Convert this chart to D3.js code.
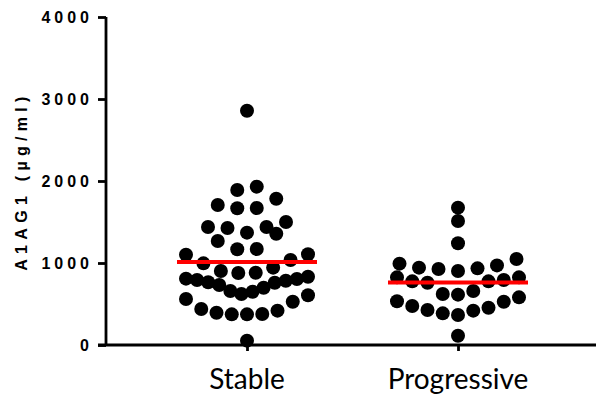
<!DOCTYPE html>
<html>
<head>
<meta charset="utf-8">
<script src="https://cdn.jsdelivr.net/npm/d3@7"></script>
<style>
  html, body { margin: 0; padding: 0; background: #fff; }
  svg { display: block; }
</style>
</head>
<body>
<svg id="chart" width="596" height="402"></svg>
<script>
// ---- data ----
const categories = ["Stable", "Progressive"];
const stableValues = [2857, 1931, 1890, 1784, 1671, 1707, 1667, 1500, 1439, 1370,
  1427, 1439, 1357, 1268, 1167, 1171, 1106, 1037, 1101, 996,
  943, 878, 882, 902, 809, 793, 765, 732, 659, 622,
  650, 699, 760, 784, 805, 833, 561, 606, 528, 439,
  394, 374, 374, 378, 419, 53];
const progressiveValues = [1675, 1512, 1240, 992, 943, 927, 902, 935, 971, 1049,
  825, 793, 760, 776, 776, 825, 659, 614, 622, 533,
  476, 427, 386, 366, 419, 455, 528, 581, 113];
const yTicks = [0, 1000, 2000, 3000, 4000];
const yTitle = "A1AG1 (µg/ml)";

// ---- layout ----
const W = 596, H = 402;
const axisX = 106, axisY = 345, topY = 17;
const svg = d3.select("#chart");

const y = d3.scaleLinear().domain([0, 4000]).range([axisY, topY]);
const x = d3.scalePoint().domain(categories).range([141.5, 563.5]).padding(0.5);

// beeswarm (Prism-like rows): values binned into rows, placed center-outwards
function swarm(values, binStart, binW, maxWidth, maxStep) {
  const items = values.map(v => ({ v, bin: Math.floor((v - binStart) / binW) }));
  const groups = d3.group(items, d => d.bin);
  const out = [];
  for (const [, arr] of groups) {
    arr.sort((a, b) => a.v - b.v);
    const n = arr.length;
    const step = n > 1 ? Math.min(maxStep, maxWidth / (n - 1)) : 0;
    arr.forEach((d, j) => {
      let off;
      if (n % 2) {
        const m = Math.ceil(j / 2);
        off = j === 0 ? 0 : (j % 2 ? -m : m);
      } else {
        const m = Math.floor(j / 2) + 0.5;
        off = j % 2 ? m : -m;
      }
      out.push({ v: d.v, dx: off * step });
    });
  }
  return out;
}

const series = [
  { cat: "Stable", values: stableValues },
  { cat: "Progressive", values: progressiveValues }
];

// axes
const yAxis = d3.axisLeft(y).tickValues(yTicks).tickSize(8).tickPadding(0).tickFormat(d3.format("d"));
const gy = svg.append("g").attr("transform", `translate(${axisX},0)`).call(yAxis);
gy.select(".domain").attr("d", `M0,${axisY}V${topY}`).attr("stroke", "#000").attr("stroke-width", 2.8);
gy.selectAll(".tick line").attr("stroke", "#000").attr("stroke-width", 2.8);
gy.selectAll(".tick text")
  .attr("x", -13)
  .attr("dy", "0.36em")
  .attr("fill", "#000")
  .style("font-family", "Liberation Sans, Arial, sans-serif")
  .style("font-weight", "bold")
  .style("font-size", "16px")
  .style("letter-spacing", "4px");

const xAxis = d3.axisBottom(x).tickSize(6).tickFormat("");
const gx = svg.append("g").attr("transform", `translate(0,${axisY})`).call(xAxis);
gx.select(".domain").attr("d", `M${axisX - 8},0H${W}`).attr("stroke", "#000").attr("stroke-width", 2.8);
gx.selectAll(".tick line").attr("stroke", "#000").attr("stroke-width", 2.8);

// category labels
svg.append("g").selectAll("text").data(categories).join("text")
  .attr("x", d => x(d))
  .attr("y", 389)
  .attr("text-anchor", "middle")
  .attr("fill", "#000")
  .style("font-family", "Lato, 'Open Sans', sans-serif")
  .style("font-size", "28px")
  .text(d => d);

// y title
svg.append("text")
  .attr("transform", `translate(27,181) rotate(-90)`)
  .attr("text-anchor", "middle")
  .attr("fill", "#000")
  .style("font-family", "Liberation Sans, Arial, sans-serif")
  .style("font-weight", "bold")
  .style("font-size", "16px")
  .style("letter-spacing", "5.3px")
  .text(yTitle);

// points
series.forEach(s => {
  const pts = swarm(s.values, 360, 250, 122, 19.5);
  svg.append("g").selectAll("circle").data(pts).join("circle")
    .attr("cx", d => x(s.cat) + d.dx)
    .attr("cy", d => y(d.v))
    .attr("r", 7)
    .attr("fill", "#000");
});

// mean lines
series.forEach(s => {
  const m = d3.mean(s.values);
  svg.append("line")
    .attr("x1", x(s.cat) - 70).attr("x2", x(s.cat) + 70)
    .attr("y1", y(m)).attr("y2", y(m))
    .attr("stroke", "#ff0000")
    .attr("stroke-width", 4);
});
</script>
</body>
</html>
